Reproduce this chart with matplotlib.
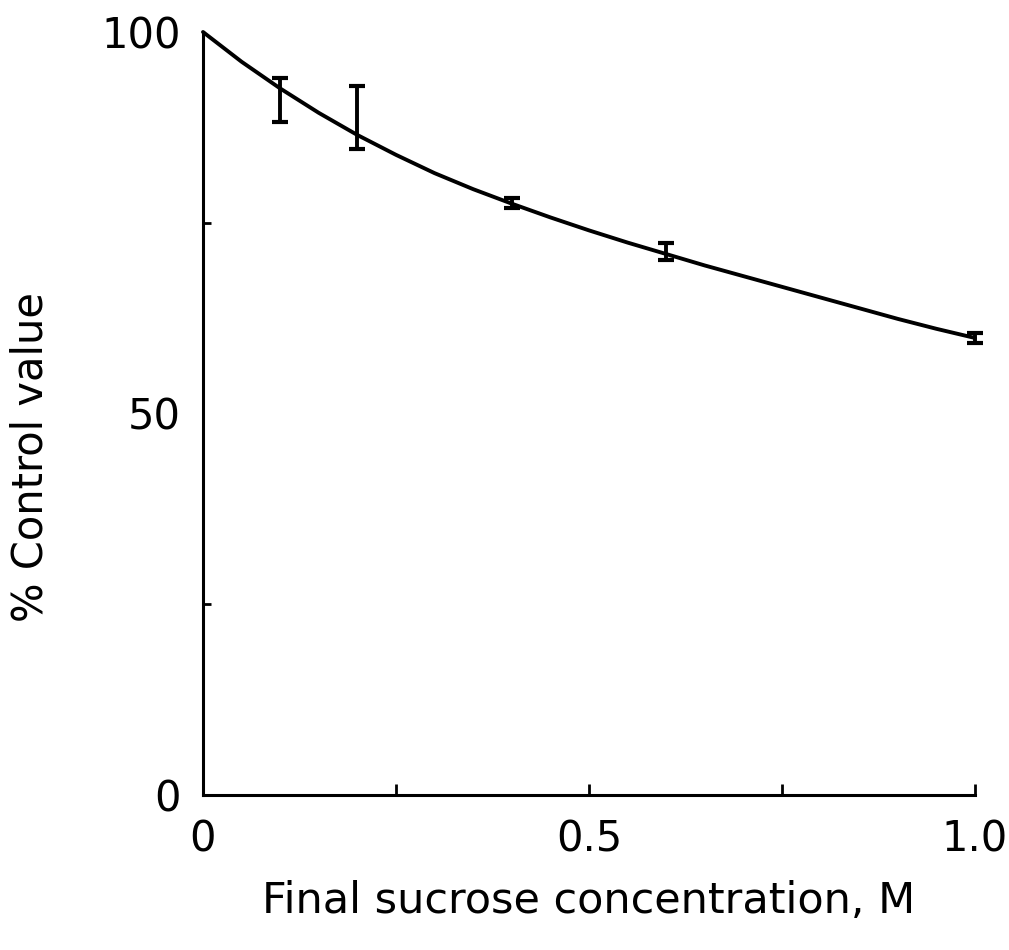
import numpy as np
import matplotlib
matplotlib.use("Agg")
import matplotlib.pyplot as plt

# Fitted curve
curve_x = [0.0, 0.05, 0.1, 0.15, 0.2, 0.25, 0.3, 0.35, 0.4, 0.45, 0.5,
           0.55, 0.6, 0.65, 0.7, 0.75, 0.8, 0.85, 0.9, 0.95, 1.0]
curve_y = [100.0, 96.1, 92.6, 89.4, 86.5, 83.9, 81.5, 79.4, 77.5, 75.7, 74.0,
           72.4, 70.9, 69.4, 68.0, 66.6, 65.2, 63.8, 62.4, 61.1, 59.9]

# Measured points, shown as error bars (low / high ends)
conc = [0.1, 0.2, 0.4, 0.6, 1.0]
bar_low = [88.2, 84.7, 76.9, 70.1, 59.2]
bar_high = [94.0, 92.9, 78.2, 72.3, 60.5]

x_tick_labels = ["0", "0.5", "1.0"]
y_tick_labels = ["0", "50", "100"]

plt.rcParams["font.family"] = ["DejaVu Sans"]

fig = plt.figure(figsize=(10.09, 9.5), dpi=100)
ax = fig.add_axes([203 / 1009, 155 / 950, 772 / 1009, 763 / 950])

ax.plot(curve_x, curve_y, color="black", lw=2.8, clip_on=False,
        solid_capstyle="round", solid_joinstyle="round")

low = np.array(bar_low)
high = np.array(bar_high)
mid = (low + high) / 2
ax.errorbar(conc, mid, yerr=[mid - low, high - mid], fmt="none", ecolor="black",
            elinewidth=2.8, capsize=5.5, capthick=3, clip_on=False)

ax.set_xlim(0, 1.0)
ax.set_ylim(0, 100)

for side in ["top", "right"]:
    ax.spines[side].set_visible(False)
for side in ["left", "bottom"]:
    ax.spines[side].set_linewidth(2.2)

ax.set_xticks([0, 0.5, 1.0])
ax.set_xticklabels(x_tick_labels)
ax.set_xticks([0.25, 0.75], minor=True)
ax.set_yticks([0, 50, 100])
ax.set_yticklabels(y_tick_labels)
ax.set_yticks([25, 75], minor=True)

ax.tick_params(axis="x", which="both", direction="in", length=8, width=2, pad=17, labelsize=30)
ax.tick_params(axis="y", which="major", direction="in", length=0, pad=16, labelsize=30)
ax.tick_params(axis="y", which="minor", direction="in", length=6, width=2)

ax.set_xlabel("Final sucrose concentration, M", fontsize=31, labelpad=14)
ax.set_ylabel("% Control value", fontsize=30)
ax.yaxis.set_label_coords(-0.196, 0.443)

fig.savefig("out.png", dpi=100, facecolor="white")
